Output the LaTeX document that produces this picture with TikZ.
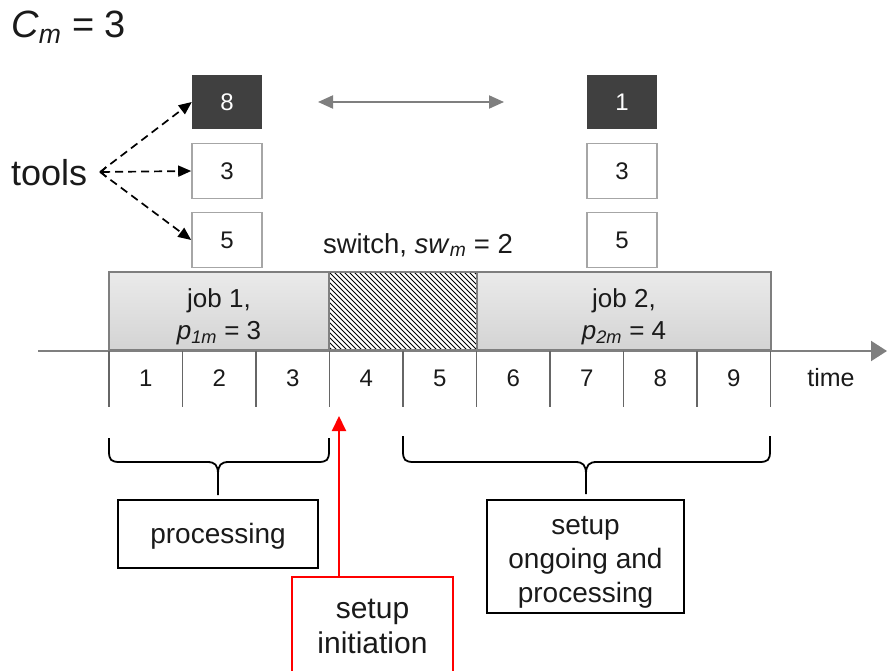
\documentclass[tikz,border=0pt]{standalone}
\usepackage{fontspec}
\setmainfont{Liberation Sans}
\usetikzlibrary{arrows.meta}
\definecolor{darkbox}{HTML}{404040}
\definecolor{boxgray}{HTML}{A6A6A6}
\definecolor{axisgray}{HTML}{7F7F7F}
\definecolor{tickgray}{HTML}{666666}
\definecolor{txt}{HTML}{1A1A1A}
\newcommand{\fsz}[2]{\fontsize{#1}{#2}\selectfont}
\begin{document}
\begin{tikzpicture}[x=1pt,y=-1pt,
  toolbox/.style={draw=boxgray,line width=1.6pt,fill=white,minimum width=70pt,minimum height=55pt,inner sep=0pt,font=\fsz{24}{28},text=txt},
  tooldark/.style={fill=darkbox,minimum width=70pt,minimum height=54pt,inner sep=0pt,text=white,font=\fsz{24}{28}},
  jobbox/.style={draw=axisgray,line width=1.5pt,top color=white!92!black,bottom color=white!83!black,minimum height=78pt,inner sep=0pt},
  jobtext/.style={align=center,font=\fsz{26}{32},text=txt,inner sep=0pt},
  numlabel/.style={font=\fsz{24}{28},text=txt,inner sep=0pt},
  tickline/.style={draw=tickgray,line width=1.6pt},
  axisline/.style={draw=axisgray,line width=2pt,-{Triangle[length=16pt,width=20pt]}},
  dasharrow/.style={line width=1.7pt,dash pattern=on 8pt off 5pt,-{Triangle[length=13pt,width=11pt]}},
  blackbox/.style={draw=black,line width=2pt,inner sep=0pt},
  boxtext/.style={align=center,font=\fsz{28}{34},text=txt,inner sep=0pt},
  redbox/.style={draw=red,line width=2pt,inner sep=0pt,align=center,font=\fsz{30}{35},text=txt},
  bracepath/.style={draw=black,line width=1.8pt}
]
\useasboundingbox (0,0) rectangle (887,671);

% title
\node[font=\fsz{38}{44},text=txt,anchor=west,inner sep=0pt] (cm) at (11,27) {\textit{C}\textsubscript{\textit{m}} = 3};

% tools
\node[font=\fsz{36}{40},text=txt,anchor=west,inner sep=0pt] (tools) at (11,173) {tools};
\coordinate (tl) at (100,172);

% tool boxes
\node[tooldark] (b8) at (227,102) {8};
\node[toolbox] (b3) at (227,171) {3};
\node[toolbox] (b5) at (227,240) {5};
\node[tooldark] (c1) at (622,102) {1};
\node[toolbox] (c3) at (622,171) {3};
\node[toolbox] (c5) at (622,240) {5};

\draw[dasharrow] (tl) -- (b8.west);
\draw[dasharrow,{Straight Barb[length=5pt,width=10pt]}-{Triangle[length=13pt,width=11pt]}] (tl) -- (b3.west);
\draw[dasharrow] (tl) -- (b5.west);

% double arrow
\coordinate (dA) at (318,102);
\coordinate (dB) at (504,102);
\draw[draw=axisgray,line width=2pt,{Triangle[length=15pt,width=13pt]}-{Triangle[length=15pt,width=13pt]}] (dA) -- (dB);

% switch label
\node[font=\fsz{27.5}{30},text=txt,inner sep=0pt] (sw) at (418,245) {switch, \textit{sw}\textsubscript{\textit{m}} = 2};

% job bar
\node[jobbox,minimum width=220pt] (j1) at (219,311) {};
\node[jobtext] (j1t) at (219,317) {job 1,\\\textit{p}\textsubscript{\textit{1m}} = 3};
\node[jobbox,minimum width=294pt] (j2) at (624,311) {};
\node[jobtext] (j2t) at (624,317) {job 2,\\\textit{p}\textsubscript{\textit{2m}} = 4};
\begin{scope}
  \clip (329,272) rectangle (477,350);
  \fill[white] (329,272) rectangle (477,350);
  \foreach \k in {-80,-75,...,150} {
    \draw[black,line width=0.85pt] (329+\k,272) -- ++(78,78);
  }
\end{scope}
\draw[draw=axisgray,line width=1.5pt] (329,272) rectangle (477,350);

% axis
\coordinate (axL) at (38,351);
\coordinate (axR) at (887,351);
\draw[axisline] (axL) -- (axR);
\foreach \i in {0,...,9} {
  \draw[tickline] (109+73.5*\i,351) -- ++(0,56);
}
\foreach \i in {1,...,9} {
  \node[numlabel] (n\i) at (109+73.5*\i-36.75,378) {\i};
}
\node[numlabel,font=\fsz{25}{28}] (time) at (831,378) {time};

% braces
\draw[bracepath] (109,438) -- (109,451) .. controls (109,460) and (111,462) .. (120,462) -- (207,462)
  .. controls (215,462) and (218,465) .. (218,474) -- (218,495);
\draw[bracepath] (218,474) .. controls (218,465) and (221,462) .. (229,462) -- (318,462)
  .. controls (327,462) and (329,460) .. (329,451) -- (329,438);
\draw[bracepath] (403,436) -- (403,451) .. controls (403,460) and (405,462) .. (414,462) -- (575,462)
  .. controls (583,462) and (586,465) .. (586,474) -- (586,494);
\draw[bracepath] (586,474) .. controls (586,465) and (589,462) .. (597,462) -- (759,462)
  .. controls (768,462) and (770,460) .. (770,451) -- (770,436);

% bottom boxes
\node[blackbox,minimum width=200pt,minimum height=68pt] (proc) at (218,534) {};
\node[boxtext] (proct) at (218,536) {processing};
\node[blackbox,minimum width=197pt,minimum height=113pt] (ongo) at (585.5,556.5) {};
\node[boxtext] (ongot) at (585.5,562) {setup\\ongoing and\\processing};
\node[redbox,minimum width=161pt,minimum height=98pt] (init) at (372.5,626) {setup\\initiation};
\draw[draw=red,line width=2pt,-{Triangle[length=15pt,width=14pt]}] ([xshift=-33.5pt]init.north) -- ++(0,-160);
\end{tikzpicture}
\end{document}
